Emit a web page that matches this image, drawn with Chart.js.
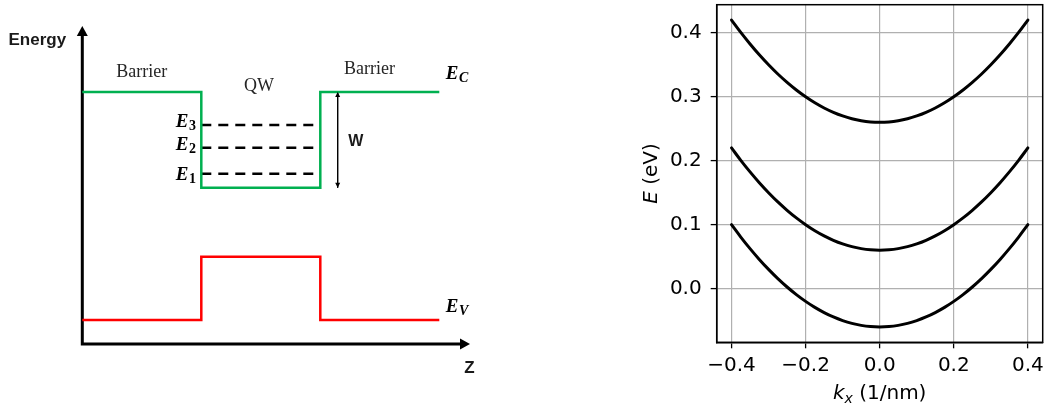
<!DOCTYPE html>
<html>
<head>
<meta charset="utf-8">
<title>Quantum well subbands</title>
<script src="https://cdn.jsdelivr.net/npm/chart.js@4.4.0/dist/chart.umd.min.js"></script>
<style>
  body { margin: 0; background: #fff; }
  #wrap { position: relative; width: 1046px; height: 409px; overflow: hidden; }
  #wellChart { position: absolute; left: 0; top: 0; }
  #bandChart { position: absolute; left: 620px; top: 0; }
</style>
</head>
<body>
<div id="wrap">
  <canvas id="wellChart" width="480" height="409"></canvas>
  <canvas id="bandChart" width="426" height="409"></canvas>
</div>
<script>
'use strict';

// LEFT PANEL - QW SKETCH (arbitrary units, z: barrier | well | barrier)
var zProfile = [0, 1, 1, 2, 2, 3];
var ecProfile = [1.0, 1.0, 0.62, 0.62, 1.0, 1.0];
var evProfile = [0.095, 0.095, 0.346, 0.346, 0.095, 0.095];
var levelNames = ['3', '2', '1'];
var levelValues = [0.869, 0.779, 0.676];
var levelSpan = [1.0, 1.98];
var energyAxisTop = 1.262;
var zAxisEnd = 3.258;
var depthArrowZ = 2.146;

// RIGHT PANEL - SUBBAND DISPERSION
var kx = [-0.400, -0.375, -0.350, -0.325, -0.300, -0.275, -0.250, -0.225, -0.200,
          -0.175, -0.150, -0.125, -0.100, -0.075, -0.050, -0.025, 0.000,
          0.025, 0.050, 0.075, 0.100, 0.125, 0.150, 0.175, 0.200,
          0.225, 0.250, 0.275, 0.300, 0.325, 0.350, 0.375, 0.400];
var band1 = [0.1000, 0.0806, 0.0625, 0.0456, 0.0300, 0.0156, 0.0025, -0.0094, -0.0200,
             -0.0294, -0.0375, -0.0444, -0.0500, -0.0544, -0.0575, -0.0594, -0.0600,
             -0.0594, -0.0575, -0.0544, -0.0500, -0.0444, -0.0375, -0.0294, -0.0200,
             -0.0094, 0.0025, 0.0156, 0.0300, 0.0456, 0.0625, 0.0806, 0.1000];
var band2 = [0.2200, 0.2006, 0.1825, 0.1656, 0.1500, 0.1356, 0.1225, 0.1106, 0.1000,
             0.0906, 0.0825, 0.0756, 0.0700, 0.0656, 0.0625, 0.0606, 0.0600,
             0.0606, 0.0625, 0.0656, 0.0700, 0.0756, 0.0825, 0.0906, 0.1000,
             0.1106, 0.1225, 0.1356, 0.1500, 0.1656, 0.1825, 0.2006, 0.2200];
var band3 = [0.4200, 0.4006, 0.3825, 0.3656, 0.3500, 0.3356, 0.3225, 0.3106, 0.3000,
             0.2906, 0.2825, 0.2756, 0.2700, 0.2656, 0.2625, 0.2606, 0.2600,
             0.2606, 0.2625, 0.2656, 0.2700, 0.2756, 0.2825, 0.2906, 0.3000,
             0.3106, 0.3225, 0.3356, 0.3500, 0.3656, 0.3825, 0.4006, 0.4200];
var kTicks = [-0.4, -0.2, 0.0, 0.2, 0.4];
var eTicks = [0.0, 0.1, 0.2, 0.3, 0.4];

function pts(xs, ys) {
  return xs.map(function (x, i) { return { x: x, y: ys[i] }; });
}

function lineSet(data, color, width, dash) {
  return {
    data: data,
    showLine: true,
    borderColor: color,
    borderWidth: width,
    borderDash: dash || [],
    pointRadius: 0,
    fill: false,
    tension: 0,
    clip: false
  };
}

// arrow head with the tip at x,y pointing along dx,dy
function head(ctx, x, y, dx, dy, len, half) {
  ctx.beginPath();
  ctx.moveTo(x, y);
  ctx.lineTo(x - dx * len - dy * half, y - dy * len + dx * half);
  ctx.lineTo(x - dx * len + dy * half, y - dy * len - dx * half);
  ctx.closePath();
  ctx.fill();
}

// E with a subscript
function subLabel(ctx, x, y, sub, subItalic) {
  ctx.textAlign = 'left';
  ctx.font = 'bold italic 19px "Liberation Serif"';
  ctx.fillText('E', x, y);
  var w = ctx.measureText('E').width;
  ctx.font = (subItalic ? 'bold italic ' : 'bold ') + '14px "Liberation Serif"';
  ctx.fillText(sub, x + w + 0.5, y + 3);
}

var wellLabels = {
  id: 'wellLabels',
  afterDatasetsDraw: function (chart) {
    var ctx = chart.ctx;
    var fx = function (v) { return chart.scales.x.getPixelForValue(v); };
    var fy = function (v) { return chart.scales.y.getPixelForValue(v); };
    ctx.save();
    ctx.fillStyle = '#000';
    // axis arrows
    head(ctx, fx(0), fy(energyAxisTop), 0, -1, 10, 5.5);
    head(ctx, fx(zAxisEnd), fy(0), 1, 0, 10, 5.5);
    // well depth arrow
    head(ctx, fx(depthArrowZ), fy(ecProfile[0]), 0, -1, 5, 2.5);
    head(ctx, fx(depthArrowZ), fy(ecProfile[2]), 0, 1, 5, 2.5);

    ctx.textBaseline = 'alphabetic';
    ctx.fillStyle = '#1a1a1a';
    ctx.textAlign = 'left';
    ctx.font = 'bold 17px "Liberation Sans"';
    ctx.fillText('Energy', fx(-0.62), fy(1.187));
    ctx.fillText('Z', fx(3.21), fy(-0.115));
    ctx.font = 'bold 16px "Liberation Sans"';
    ctx.fillText('W', fx(2.235), fy(0.787));

    ctx.fillStyle = '#262626';
    ctx.textAlign = 'center';
    ctx.font = '18px "Liberation Serif"';
    ctx.fillText('Barrier', fx(0.5), fy(1.06));
    ctx.fillText('QW', fx(1.485), fy(1.004));
    ctx.fillText('Barrier', fx(2.413), fy(1.071));

    ctx.fillStyle = '#000';
    var labelY = [0.862, 0.770, 0.651];
    for (var i = 0; i < levelNames.length; i++) {
      subLabel(ctx, fx(0.785), fy(labelY[i]), levelNames[i], false);
    }
    subLabel(ctx, fx(3.055), fy(1.052), 'C', true);
    subLabel(ctx, fx(3.055), fy(0.127), 'V', true);
    ctx.restore();
  }
};

var wellSets = [
  lineSet(pts(zProfile, ecProfile), '#00b050', 2.5),
  lineSet(pts(zProfile, evProfile), '#ff0000', 2.5)
];
levelValues.forEach(function (v) {
  wellSets.push(lineSet([{ x: levelSpan[0], y: v }, { x: levelSpan[1], y: v }], '#000', 2.5, [10, 7]));
});
wellSets.push(lineSet([{ x: 0, y: energyAxisTop - 0.02 }, { x: 0, y: 0 }, { x: zAxisEnd - 0.05, y: 0 }], '#000', 3));
wellSets.push(lineSet([{ x: depthArrowZ, y: ecProfile[0] }, { x: depthArrowZ, y: ecProfile[2] }], '#000', 1));

new Chart(document.getElementById('wellChart'), {
  type: 'scatter',
  data: { datasets: wellSets },
  options: {
    responsive: false,
    animation: false,
    events: [],
    layout: { padding: { left: 82.3, right: 5, top: 16.4, bottom: 65 } },
    plugins: { legend: { display: false }, tooltip: { enabled: false } },
    scales: {
      x: { type: 'linear', display: false, min: 0, max: 3.3 },
      y: { type: 'linear', display: false, min: 0, max: 1.3 }
    }
  },
  plugins: [wellLabels]
});

// RIGHT PANEL
function fmtTick(v) {
  var r = Math.round(v * 10) / 10;
  return (r < 0 ? '\u2212' : '') + Math.abs(r).toFixed(1);
}

var bandFrame = {
  id: 'bandFrame',
  afterDraw: function (chart) {
    var ctx = chart.ctx;
    var a = chart.chartArea;
    ctx.save();
    ctx.strokeStyle = '#000';
    ctx.lineWidth = 1.5;
    ctx.strokeRect(a.left, a.top, a.right - a.left, a.bottom - a.top);

    ctx.fillStyle = '#000';
    ctx.textBaseline = 'alphabetic';
    ctx.textAlign = 'left';
    // x title: k_x (1/nm)
    ctx.font = 'italic 20px "DejaVu Sans"';
    var wk = ctx.measureText('k').width;
    ctx.font = 'italic 14px "DejaVu Sans"';
    var wsub = ctx.measureText('x').width;
    ctx.font = '20px "DejaVu Sans"';
    var wrest = ctx.measureText(' (1/nm)').width;
    var x0 = (a.left + a.right) / 2 - (wk + wsub + wrest) / 2;
    var base = 399;
    ctx.font = 'italic 20px "DejaVu Sans"';
    ctx.fillText('k', x0, base);
    ctx.font = 'italic 14px "DejaVu Sans"';
    ctx.fillText('x', x0 + wk, base + 4);
    ctx.font = '20px "DejaVu Sans"';
    ctx.fillText(' (1/nm)', x0 + wk + wsub, base);

    // y title: E (eV)
    ctx.translate(36.7, (a.top + a.bottom) / 2);
    ctx.rotate(-Math.PI / 2);
    ctx.font = 'italic 20px "DejaVu Sans"';
    var we = ctx.measureText('E').width;
    ctx.font = '20px "DejaVu Sans"';
    var wev = ctx.measureText(' (eV)').width;
    var y0 = -(we + wev) / 2;
    ctx.font = 'italic 20px "DejaVu Sans"';
    ctx.fillText('E', y0, 0);
    ctx.font = '20px "DejaVu Sans"';
    ctx.fillText(' (eV)', y0 + we, 0);
    ctx.restore();
  }
};

function bandSet(values) {
  return {
    data: pts(kx, values),
    showLine: true,
    borderColor: '#000',
    borderWidth: 3,
    borderJoinStyle: 'round',
    borderCapStyle: 'round',
    pointRadius: 0,
    fill: false,
    tension: 0.4,
    clip: false
  };
}

var tickFont = { family: 'DejaVu Sans', size: 20 };

new Chart(document.getElementById('bandChart'), {
  type: 'scatter',
  data: { datasets: [bandSet(band1), bandSet(band2), bandSet(band3)] },
  options: {
    responsive: false,
    animation: false,
    events: [],
    layout: { padding: { left: 0, right: 3.3, top: 4.7, bottom: 0 } },
    plugins: { legend: { display: false }, tooltip: { enabled: false } },
    scales: {
      x: {
        type: 'linear',
        min: -0.44,
        max: 0.44,
        afterFit: function (s) { s.height = 66.7; s.paddingLeft = 0; s.paddingRight = 0; },
        afterBuildTicks: function (s) { s.ticks = kTicks.map(function (v) { return { value: v }; }); },
        ticks: { color: '#000', font: tickFont, padding: 5, maxRotation: 0, autoSkip: false, callback: fmtTick },
        grid: { color: '#b0b0b0', lineWidth: 1.2, tickLength: 6, tickColor: '#000', tickWidth: 1.3 },
        border: { color: '#000', width: 1.5 }
      },
      y: {
        type: 'linear',
        min: -0.084,
        max: 0.444,
        afterFit: function (s) { s.width = 96.7; s.paddingTop = 0; s.paddingBottom = 0; },
        afterBuildTicks: function (s) { s.ticks = eTicks.map(function (v) { return { value: v }; }); },
        ticks: { color: '#000', font: tickFont, padding: 9, autoSkip: false, callback: fmtTick },
        grid: { color: '#b0b0b0', lineWidth: 1.2, tickLength: 6, tickColor: '#000', tickWidth: 1.3 },
        border: { color: '#000', width: 1.5 }
      }
    }
  },
  plugins: [bandFrame]
});
</script>
</body>
</html>
